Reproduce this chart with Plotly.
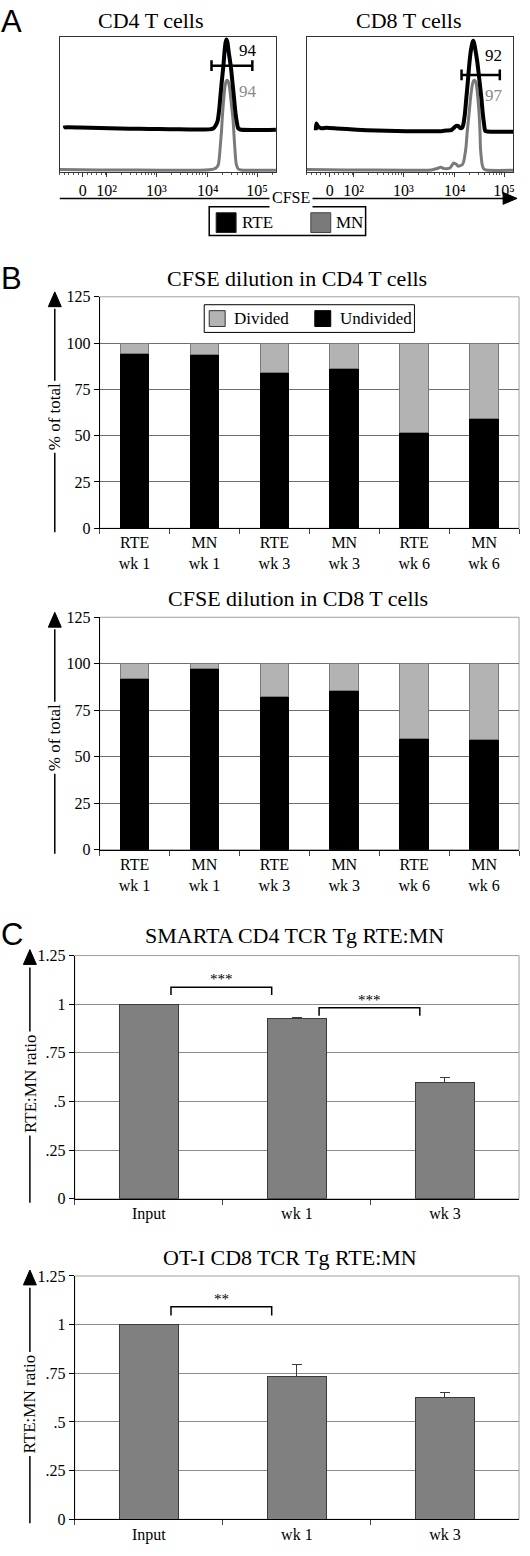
import math
import plotly.graph_objects as go

W, H = 530, 1556
SERIF = "Liberation Serif"
SANS = "Liberation Sans"

# ---------------- Panel A: CFSE histograms ----------------
# x = display channel position of the biexponential CFSE axis, y = % of max (RTE overlay offset upward)
hist_tick_pos = [23, 47, 97, 148.5, 198]
hist_tick_text = ["0", "10²", "10³", "10⁴", "10⁵"]

cd4_rte_x = [5, 5.5, 8, 20, 40, 60, 80, 100, 120, 140, 150, 154, 156.5, 158.5, 160, 161, 162.5, 164.3, 165.5,
             166.5, 167.3, 168.3, 169.5, 171.7, 173.5, 175, 176.5, 177.7, 179, 181, 217]
cd4_rte_y = [34.5, 33, 33.2, 33, 32.6, 32.3, 32, 31.8, 31.6, 31.5, 31.6, 32.3, 34.5, 38, 46, 54, 66, 79, 90,
             96, 98, 96, 89, 78, 65, 54, 43, 37, 32.5, 31.5, 31.4]
cd4_mn_x = [0, 20, 60, 100, 140, 150, 155, 158, 159.3, 160.3, 161, 162.3, 163.3, 164.8, 166, 167.2, 168.3,
            169.3, 170.5, 172, 174, 175, 175.7, 176.5, 177.3, 179, 182, 217]
cd4_mn_y = [1.9, 1.8, 1.6, 1.5, 1.5, 1.8, 2.5, 4, 6, 12, 18, 30, 42, 56, 64, 67.5, 67.7,
            66.5, 62, 52, 38, 26, 18, 10, 5.5, 2.5, 1.6, 1.5]

cd8_rte_x = [9, 9.5, 11, 14, 20, 30, 40, 60, 80, 100, 120, 135, 140, 145, 148, 150, 152, 154, 156, 157, 158.5,
             160, 161.5, 163, 164.5, 166, 167, 168, 169.5, 171, 172, 173.5, 175.3, 176.5, 178, 179, 181, 217]
cd8_rte_y = [31, 36, 34, 32.5, 32.8, 32.3, 31.8, 31, 30.5, 30.3, 30.2, 30.3, 30.8, 31, 33, 34.2, 34, 32.5, 33,
             35, 42, 54, 66, 79, 89, 95, 97, 95, 89, 82, 76, 66, 54, 44, 34.8, 30.5, 30, 30]
cd8_mn_x = [0, 40, 100, 125, 130, 134.5, 137, 140, 143.7, 146, 147.5, 150, 152, 154, 156, 157.5, 158.5, 159.7,
            161, 162.7, 164.5, 166, 167.3, 168.5, 169.8, 171, 172.2, 173, 173.8, 174.3, 175.2, 176, 177.5, 180, 217]
cd8_mn_y = [1.9, 1.6, 1.5, 1.6, 2.5, 3.6, 2.8, 2.6, 3.1, 5.5, 6.8, 5.8, 4.4, 4.8, 5.5, 8, 12, 18,
            30, 42, 56, 64, 67.5, 67.7, 66, 60, 50, 42, 30, 18, 10, 5.5, 2.5, 1.6, 1.5]

cd4_gate = [152.3, 193.3]
cd4_gate_level = 78.6
cd4_gate_labels = ["94", "94"]        # RTE, MN
cd4_label_x = 188.5
cd4_label_y = [89.6, 59.7]
cd8_gate = [155.3, 193.7]
cd8_gate_level = 71.8
cd8_gate_labels = ["92", "97"]
cd8_label_x = 187.5
cd8_label_y = [85.9, 56.7]

# ---------------- Panel B: CFSE dilution ----------------
b_categories = ["RTE<br>wk 1", "MN<br>wk 1", "RTE<br>wk 3", "MN<br>wk 3", "RTE<br>wk 6", "MN<br>wk 6"]
cd4_undivided = [94.3, 93.6, 83.9, 86.5, 51.6, 59.4]
cd4_divided = [5.7, 6.4, 16.1, 13.5, 48.4, 40.6]
cd8_undivided = [92.2, 97.2, 82.4, 85.5, 59.9, 59.0]
cd8_divided = [7.8, 2.8, 17.6, 14.5, 40.1, 41.0]
b_yticks = [0, 25, 50, 75, 100, 125]

# ---------------- Panel C: RTE:MN ratio ----------------
c_categories = ["Input", "wk 1", "wk 3"]
smarta_ratio = [1.0, 0.926, 0.596]
smarta_err = [0, 0.004, 0.027]
oti_ratio = [1.0, 0.735, 0.628]
oti_err = [0, 0.06, 0.021]
c_yticks = [0, 0.25, 0.5, 0.75, 1, 1.25]
c_yticktext = ["0", ".25", ".5", ".75", "1", "1.25"]
# (from category, to category, bracket level, leg end level, label)
smarta_brackets = [(0, 1, 1.087, 1.047, "***"), (1, 2, 0.982, 0.94, "***")]
oti_brackets = [(0, 1, 1.092, 1.047, "**")]


def px(x):
    return x / W


def py(y):
    return 1 - y / H


fig = go.Figure()

BLACK_LINE = "#000000"
GRAY_LINE = "#7a7a7a"

# Panel A traces
for xa, ya, xs, ys, col, lw in [
    ("x", "y", cd4_mn_x, cd4_mn_y, GRAY_LINE, 3),
    ("x", "y", cd4_rte_x, cd4_rte_y, BLACK_LINE, 4),
    ("x2", "y2", cd8_mn_x, cd8_mn_y, GRAY_LINE, 3),
    ("x2", "y2", cd8_rte_x, cd8_rte_y, BLACK_LINE, 4),
]:
    fig.add_trace(go.Scatter(x=xs, y=ys, mode="lines", line=dict(color=col, width=lw, shape="spline", smoothing=0.6),
                             xaxis=xa, yaxis=ya, showlegend=False, hoverinfo="skip", cliponaxis=True))

# Panel B traces
for xa, ya, und, div in [("x3", "y3", cd4_undivided, cd4_divided), ("x4", "y4", cd8_undivided, cd8_divided)]:
    fig.add_trace(go.Bar(x=b_categories, y=und, marker=dict(color="#000000", line=dict(color="#000000", width=1)),
                         xaxis=xa, yaxis=ya, showlegend=False))
    fig.add_trace(go.Bar(x=b_categories, y=div, marker=dict(color="#b3b3b3", line=dict(color="#7a7a7a", width=1)),
                         xaxis=xa, yaxis=ya, showlegend=False))

# Panel C traces
for xa, ya, vals, errs in [("x5", "y5", smarta_ratio, smarta_err), ("x6", "y6", oti_ratio, oti_err)]:
    fig.add_trace(go.Bar(x=c_categories, y=vals, width=0.395,
                         marker=dict(color="#808080", line=dict(color="#3a3a3a", width=1)),
                         error_y=dict(type="data", array=errs, arrayminus=[0] * len(errs), symmetric=False,
                                      color="#3a3a3a", thickness=1, width=5),
                         xaxis=xa, yaxis=ya, showlegend=False))

# minor ticks for the biexponential axis
decades = {2: hist_tick_pos[1], 3: hist_tick_pos[2], 4: hist_tick_pos[3], 5: hist_tick_pos[4]}
minor_pos = []
for d in (2, 3, 4):
    for k in range(2, 10):
        minor_pos.append(decades[d] + math.log10(k) * (decades[d + 1] - decades[d]))
for k in range(-5, 6):
    if k != 0:
        minor_pos.append(hist_tick_pos[0] + 4.6 * k)
minor_pos += [198 + math.log10(k) * 50 for k in (2, 3, 4)]

hist_x_common = dict(showline=True, mirror=True, linecolor="#333333", linewidth=1, showgrid=False, zeroline=False,
                     tickmode="array", tickvals=hist_tick_pos, ticktext=hist_tick_text, ticks="outside",
                     ticklen=4, tickcolor="#333333", tickfont=dict(family=SERIF, size=16, color="black"),
                     minor=dict(tickvals=minor_pos, ticks="outside", ticklen=2, tickcolor="#555555"))
hist_y_common = dict(showline=True, mirror=True, linecolor="#333333", linewidth=1, showgrid=False, zeroline=False,
                     showticklabels=False, ticks="", range=[0, 100])

bar_x_common = dict(type="category", showline=True, linecolor="black", linewidth=1, ticks="outside",
                    tickson="boundaries", ticklen=5, tickcolor="#444444", showgrid=False,
                    tickfont=dict(family=SERIF, size=16, color="black"))


def bar_y(rng, tickvals, ticktext, grid):
    return dict(range=rng, tickmode="array", tickvals=tickvals, ticktext=ticktext, showgrid=True, gridcolor=grid,
                gridwidth=1, showline=True, linecolor="black", linewidth=1, ticks="outside", ticklen=5,
                tickcolor="black", zeroline=False, tickfont=dict(family=SERIF, size=16, color="black"))


fig.update_layout(
    width=W, height=H, margin=dict(l=0, r=0, t=0, b=0), paper_bgcolor="white", plot_bgcolor="white",
    barmode="stack", bargap=0.59, font=dict(family=SERIF, color="black"),
    xaxis=dict(domain=[px(60), px(277)], anchor="y", range=[0, 217], **hist_x_common),
    yaxis=dict(domain=[py(166), py(29)], anchor="x", **hist_y_common),
    xaxis2=dict(domain=[px(308), px(515)], anchor="y2", range=[0, 207], **hist_x_common),
    yaxis2=dict(domain=[py(166), py(29)], anchor="x2", **hist_y_common),
    xaxis3=dict(domain=[px(100), px(521)], anchor="y3", **bar_x_common),
    yaxis3=dict(domain=[py(526), py(292)], anchor="x3", **bar_y([0, 125], b_yticks, [str(v) for v in b_yticks], "#6e6e6e")),
    xaxis4=dict(domain=[px(100), px(521)], anchor="y4", **bar_x_common),
    yaxis4=dict(domain=[py(851), py(616)], anchor="x4", **bar_y([0, 125], b_yticks, [str(v) for v in b_yticks], "#6e6e6e")),
    xaxis5=dict(domain=[px(75), px(521)], anchor="y5", **bar_x_common),
    yaxis5=dict(domain=[py(1204), py(958)], anchor="x5", **bar_y([0, 1.25], c_yticks, c_yticktext, "#8c8c8c")),
    xaxis6=dict(domain=[px(75), px(521)], anchor="y6", **bar_x_common),
    yaxis6=dict(domain=[py(1528), py(1282)], anchor="x6", **bar_y([0, 1.25], c_yticks, c_yticktext, "#8c8c8c")),
)

shapes = []
ann = []


def text(x, y, s, size, family=SERIF, color="black", **kw):
    ann.append(dict(x=px(x), y=py(y), xref="paper", yref="paper", text=s, showarrow=False,
                    font=dict(family=family, size=size, color=color), xanchor=kw.pop("xanchor", "center"),
                    yanchor=kw.pop("yanchor", "middle"), **kw))


def line(x0, y0, x1, y1, color="black", width=1):
    shapes.append(dict(type="line", xref="paper", yref="paper", x0=px(x0), y0=py(y0), x1=px(x1), y1=py(y1),
                       line=dict(color=color, width=width), layer="above"))


def rect(x0, y0, x1, y1, fill, lc="black", lw=1, layer="above"):
    shapes.append(dict(type="rect", xref="paper", yref="paper", x0=px(x0), y0=py(y0), x1=px(x1), y1=py(y1),
                       fillcolor=fill, line=dict(color=lc, width=lw), layer=layer))


def tri_up(xc, y_apex, half_w, h):
    shapes.append(dict(type="path", xref="paper", yref="paper",
                       path=f"M {px(xc)},{py(y_apex)} L {px(xc - half_w)},{py(y_apex + h)} L {px(xc + half_w)},{py(y_apex + h)} Z",
                       fillcolor="black", line=dict(color="black", width=1), layer="above"))


# ---- Panel A decorations
text(12, 14, "A", 31, SANS)
text(152, 13, "CD4 T cells", 22)
text(411, 13, "CD8 T cells", 22)

for xa, ya, gate, lvl, labs, lx, ly in [
        ("x", "y", cd4_gate, cd4_gate_level, cd4_gate_labels, cd4_label_x, cd4_label_y),
        ("x2", "y2", cd8_gate, cd8_gate_level, cd8_gate_labels, cd8_label_x, cd8_label_y)]:
    shapes.append(dict(type="line", xref=xa, yref=ya, x0=gate[0], x1=gate[1], y0=lvl, y1=lvl,
                       line=dict(color="black", width=2.5)))
    for gx in gate:
        shapes.append(dict(type="line", xref=xa, yref=ya, x0=gx, x1=gx, y0=lvl - 4, y1=lvl + 4,
                           line=dict(color="black", width=2.5)))
    ann.append(dict(x=lx, y=ly[0], xref=xa, yref=ya, text=labs[0], showarrow=False,
                    font=dict(family=SERIF, size=17, color="black")))
    ann.append(dict(x=lx, y=ly[1], xref=xa, yref=ya, text=labs[1], showarrow=False,
                    font=dict(family=SERIF, size=17, color="#8a8a8a")))

# CFSE arrow
line(60, 192.5, 507, 192.5, width=1.5)
shapes.append(dict(type="path", xref="paper", yref="paper",
                   path=f"M {px(519)},{py(192.5)} L {px(505)},{py(186.5)} L {px(505)},{py(198.5)} Z",
                   fillcolor="black", line=dict(color="black", width=1), layer="above"))
text(292, 192, "CFSE", 16, bgcolor="white", borderpad=2)

# legend A
rect(210, 201, 367, 230, "white", lw=1.5)
rect(217, 207, 237, 227, "black", lc="#222222")
rect(312, 207, 332, 227, "#7a7a7a", lc="#444444")
text(241, 216.5, "RTE", 17, xanchor="left")
text(335, 216.5, "MN", 17, xanchor="left")

# ---- Panel B decorations
text(12, 273, "B", 31, SANS)
text(298, 273, "CFSE dilution in CD4 T cells", 22)
text(299, 597, "CFSE dilution in CD8 T cells", 22)
for top, bot in [(292, 526), (616, 851)]:
    rect(100, top, 521, bot, "rgba(0,0,0,0)", lc="#a0a0a0", lw=1, layer="below")
    line(55, bot + 4, 55, top + 12, width=1.5)
    tri_up(55, top - 5, 6.5, 15)
    text(55, (top + bot) / 2 + 4, "% of total", 17, textangle=-90, bgcolor="white", borderpad=2)

rect(205, 300, 416, 328, "white", lw=1)
rect(210, 306, 226, 322, "#b3b3b3", lc="#333333")
rect(316, 306, 332, 322, "black", lc="black")
text(233, 314, "Divided", 17, xanchor="left")
text(339, 314, "Undivided", 17, xanchor="left")

# ---- Panel C decorations
text(12, 937, "C", 31, SANS)
text(296, 938, "SMARTA CD4 TCR Tg RTE:MN", 22)
text(291, 1263, "OT-I CD8 TCR Tg RTE:MN", 22)
for top, bot in [(958, 1204), (1282, 1528)]:
    rect(75, top, 521, bot, "rgba(0,0,0,0)", lc="#a0a0a0", lw=1, layer="below")
    line(30, bot + 4, 30, top + 12, width=1.5)
    tri_up(30, top - 6, 6.5, 15)
    text(30, (top + bot) / 2 + 6, "RTE:MN ratio", 17, textangle=-90, bgcolor="white", borderpad=2)

for xa, ya, brs in [("x5", "y5", smarta_brackets), ("x6", "y6", oti_brackets)]:
    for c0, c1, lvl, leg, lab in brs:
        xs0, xs1 = c0 + 0.15, c1 - 0.17
        shapes.append(dict(type="path", xref=xa, yref=ya,
                           path=f"M {xs0},{leg} L {xs0},{lvl} L {xs1},{lvl} L {xs1},{leg}",
                           line=dict(color="black", width=1.5)))
        ann.append(dict(x=(xs0 + xs1) / 2, y=lvl, xref=xa, yref=ya, text=lab, showarrow=False, yanchor="bottom",
                        yshift=-2, font=dict(family=SERIF, size=15, color="black")))

fig.update_layout(shapes=shapes, annotations=ann)
fig.write_html("out.html", config={"displayModeBar": False},
               post_script="document.body.style.margin='0';document.body.style.padding='0';")
